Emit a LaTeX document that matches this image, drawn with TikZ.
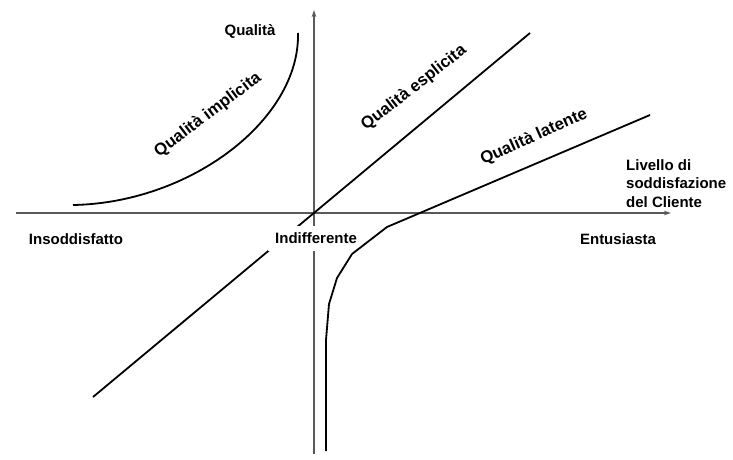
\documentclass[tikz,border=0pt]{standalone}
\usepackage{fontspec}
\setmainfont{Liberation Sans}
\usetikzlibrary{arrows.meta}
\begin{document}
\begin{tikzpicture}[x=1pt,y=-1pt,
  axisline/.style={draw=black!65, line width=1.1pt, -{Stealth[length=7pt,width=4.5pt]}},
  curveline/.style={draw=black, line width=1.8pt, line join=round},
  lbl/.style={font=\fontsize{15}{18.5}\selectfont\bfseries, inner sep=0pt},
  rlbl/.style={font=\fontsize{16.7}{20}\selectfont\bfseries, inner sep=0pt, anchor=center}]
\useasboundingbox (0,0) rectangle (733,460);
% axes
\coordinate (O) at (314,213);
\coordinate (xs) at (16,213);
\coordinate (xe) at (671,213);
\coordinate (ys) at (314,454);
\coordinate (ye) at (314,10);
\draw[axisline] (xs) -- (xe);
\draw[axisline] (ys) -- (ye);
% explicit quality line
\coordinate (e1) at (93,397);
\coordinate (e2) at (530,33);
\draw[curveline] (e1) -- (e2);
% implicit quality curve
\coordinate (i1) at (73,205);
\coordinate (i2) at (298,33);
\draw[curveline] (i1) .. controls (190,203) and (300,120) .. (i2);
% label with white background over the axis and the explicit line
\node[lbl, fill=white, inner xsep=7pt, inner ysep=7pt] (indiff) at (316,238.5) {Indifferente};
% latent quality curve
\coordinate (l1) at (326,451);
\coordinate (l2) at (650,115);
\draw[curveline] (l1) -- (326,340) -- (329,304) -- (337,278) -- (352,254) -- (387,227) -- (l2);
% labels
\node[lbl] (insodd) at (76,239.5) {Insoddisfatto};
\node[lbl] (entus) at (618,239.5) {Entusiasta};
\node[lbl] (qual) at (250,31) {Qualità};
\node[lbl, align=left, anchor=west] (livello) at (626,183.5) {Livello di\\soddisfazione\\del Cliente};
\node[rlbl, rotate=37] (impl) at (208,115) {Qualità implicita};
\node[rlbl, rotate=38] (espl) at (414,88) {Qualità esplicita};
\node[rlbl, rotate=24] (lat) at (534,137) {Qualità latente};
\end{tikzpicture}
\end{document}
